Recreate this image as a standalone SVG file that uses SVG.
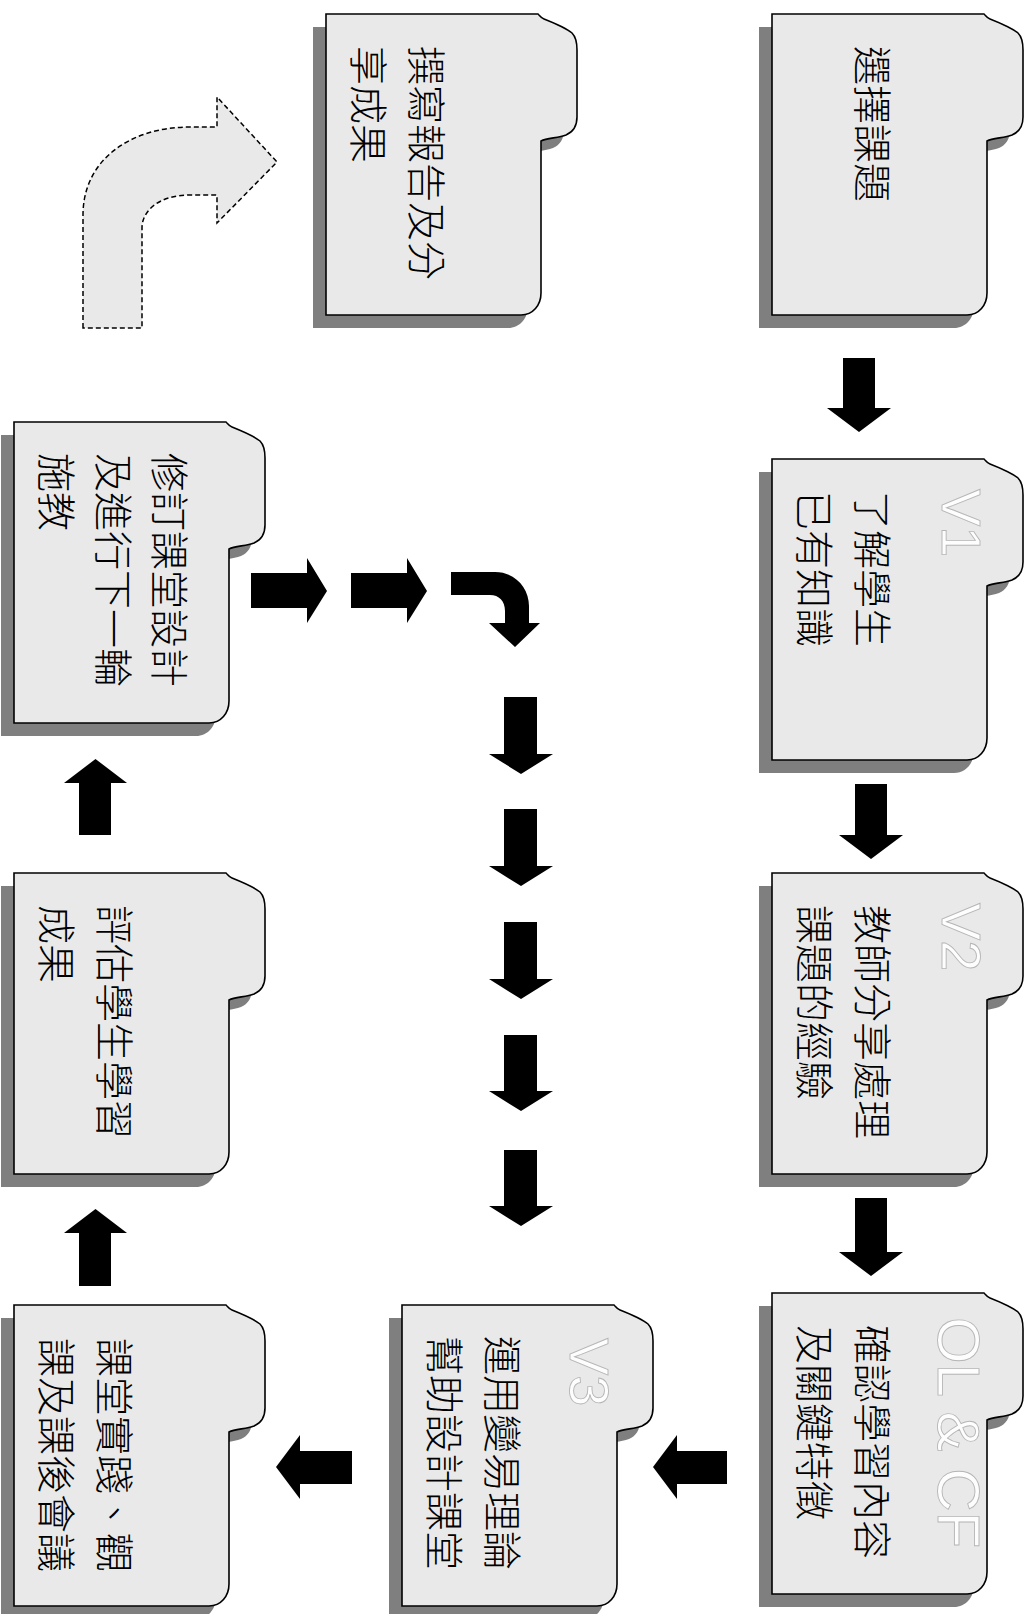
<svg xmlns="http://www.w3.org/2000/svg" xmlns:xlink="http://www.w3.org/1999/xlink" width="1033" height="1614" viewBox="0 0 1033 1614">
<style>
.shadow{fill:#7f7f7f;stroke:none}
.folder{fill:#e9e9e9;stroke:#000;stroke-width:1.6}
.t{font-family:"Noto Sans CJK TC","Noto Sans CJK SC",sans-serif;font-size:39px;font-weight:300;fill:#000}
.v{font-family:"Liberation Sans",Arial,sans-serif;font-size:56px;fill:#fdfdfd;stroke:#b5b5b5;stroke-width:0.9}
.arr{fill:#000;stroke:none}
.dash{fill:#e9e9e9;stroke:#000;stroke-width:1.5;stroke-dasharray:5 3}
</style>
<defs>
<path id="fold" d="M0,0 H212 C214,2 215,4 218,5 C228,9 240,14 246,19 C250,23 251,29 251,36 V103 C251,112 247,118 240,121 C232,124 221,124 215,127 V279 C215,291 207,301 195,301 H0 Z"/>
</defs>

<g id="connectors">
<path class="arr" d="M843,358 V408 H827 L859,432 L891,408 H875 V358 Z"/>
<path class="arr" d="M855,784 V835 H839 L871,859 L903,835 H887 V784 Z"/>
<path class="arr" d="M855,1198 V1252 H839 L871,1276 L903,1252 H887 V1198 Z"/>
<path class="arr" d="M727,1451 H677 V1435 L653,1467 L677,1499 V1484 H727 Z"/>
<path class="arr" d="M352,1451 H300 V1435 L276,1467 L300,1499 V1484 H352 Z"/>
<path class="arr" d="M79,1286 V1233 H64 L95.5,1209 L127,1233 H111 V1286 Z"/>
<path class="arr" d="M79,835 V783 H64 L95.5,759 L127,783 H111 V835 Z"/>
<path class="arr" d="M251,573 H307 V558 L327,591 L307,623 V608 H251 Z"/>
<path class="arr" d="M351,573 H407 V558 L427,591 L407,623 V608 H351 Z"/>
<path class="arr" d="M451,572 H495 C515,572 529,588 529,606 V623 H540 L515,647 L489,623 H505 V611 C505,601 499,595 490,595 H451 Z"/>
<path class="arr" d="M504,697 V754 H489 L521,774 L553,754 H537 V697 Z"/>
<path class="arr" d="M504,809 V866 H489 L521,886 L553,866 H537 V809 Z"/>
<path class="arr" d="M504,922 V979 H489 L521,999 L553,979 H537 V922 Z"/>
<path class="arr" d="M504,1035 V1091 H489 L521,1111 L553,1091 H537 V1035 Z"/>
<path class="arr" d="M504,1150 V1206 H489 L521,1226 L553,1206 H537 V1150 Z"/>
<path class="dash" d="M83,328 V215 C83,160 130,127 190,127 H217 V97 L277,162 L217,223 V195 H190 C160,195 142,210 142,228 V328 Z"/>
</g>

<g id="n-select">
<use xlink:href="#fold" class="shadow" transform="translate(759,27)"/>
<use xlink:href="#fold" class="folder" transform="translate(772,14)"/>
<text class="t" transform="translate(858,46) rotate(90)">選擇課題</text>
</g>

<g id="n-v1">
<use xlink:href="#fold" class="shadow" transform="translate(759,472)"/>
<use xlink:href="#fold" class="folder" transform="translate(772,459)"/>
<text class="v" transform="translate(942,489) rotate(90)">V1</text>
<text class="t" transform="translate(858,491) rotate(90)">了解學生</text>
<text class="t" transform="translate(800,491) rotate(90)">已有知識</text>
</g>

<g id="n-v2">
<use xlink:href="#fold" class="shadow" transform="translate(759,886)"/>
<use xlink:href="#fold" class="folder" transform="translate(772,873)"/>
<text class="v" transform="translate(942,903) rotate(90)">V2</text>
<text class="t" transform="translate(858,905) rotate(90)">教師分享處理</text>
<text class="t" transform="translate(800,905) rotate(90)">課題的經驗</text>
</g>

<g id="n-olcf">
<use xlink:href="#fold" class="shadow" transform="translate(759,1306)"/>
<use xlink:href="#fold" class="folder" transform="translate(772,1293)"/>
<text class="v" style="font-size:60px" transform="translate(938,1317) rotate(90)">OL &amp; CF</text>
<text class="t" transform="translate(858,1325) rotate(90)">確認學習內容</text>
<text class="t" transform="translate(800,1325) rotate(90)">及關鍵特徵</text>
</g>

<g id="n-v3">
<use xlink:href="#fold" class="shadow" transform="translate(389,1318)"/>
<use xlink:href="#fold" class="folder" transform="translate(402,1305)"/>
<text class="v" transform="translate(570,1338) rotate(90)">V3</text>
<text class="t" transform="translate(488,1336) rotate(90)">運用變易理論</text>
<text class="t" transform="translate(430,1336) rotate(90)">幫助設計課堂</text>
</g>

<g id="n-practice">
<use xlink:href="#fold" class="shadow" transform="translate(1,1318)"/>
<use xlink:href="#fold" class="folder" transform="translate(14,1305)"/>
<text class="t" transform="translate(100,1338) rotate(90)">課堂實踐、觀</text>
<text class="t" transform="translate(42,1338) rotate(90)">課及課後會議</text>
</g>

<g id="n-evaluate">
<use xlink:href="#fold" class="shadow" transform="translate(1,886)"/>
<use xlink:href="#fold" class="folder" transform="translate(14,873)"/>
<text class="t" transform="translate(100,905) rotate(90)">評估學生學習</text>
<text class="t" transform="translate(42,905) rotate(90)">成果</text>
</g>

<g id="n-revise">
<use xlink:href="#fold" class="shadow" transform="translate(1,435)"/>
<use xlink:href="#fold" class="folder" transform="translate(14,422)"/>
<text class="t" transform="translate(155,453) rotate(90)">修訂課堂設計</text>
<text class="t" transform="translate(99,453) rotate(90)">及進行下一輪</text>
<text class="t" transform="translate(42,453) rotate(90)">施教</text>
</g>

<g id="n-report">
<use xlink:href="#fold" class="shadow" transform="translate(313,27)"/>
<use xlink:href="#fold" class="folder" transform="translate(326,14)"/>
<text class="t" transform="translate(412,46) rotate(90)">撰寫報告及分</text>
<text class="t" transform="translate(354,46) rotate(90)">享成果</text>
</g>
</svg>
